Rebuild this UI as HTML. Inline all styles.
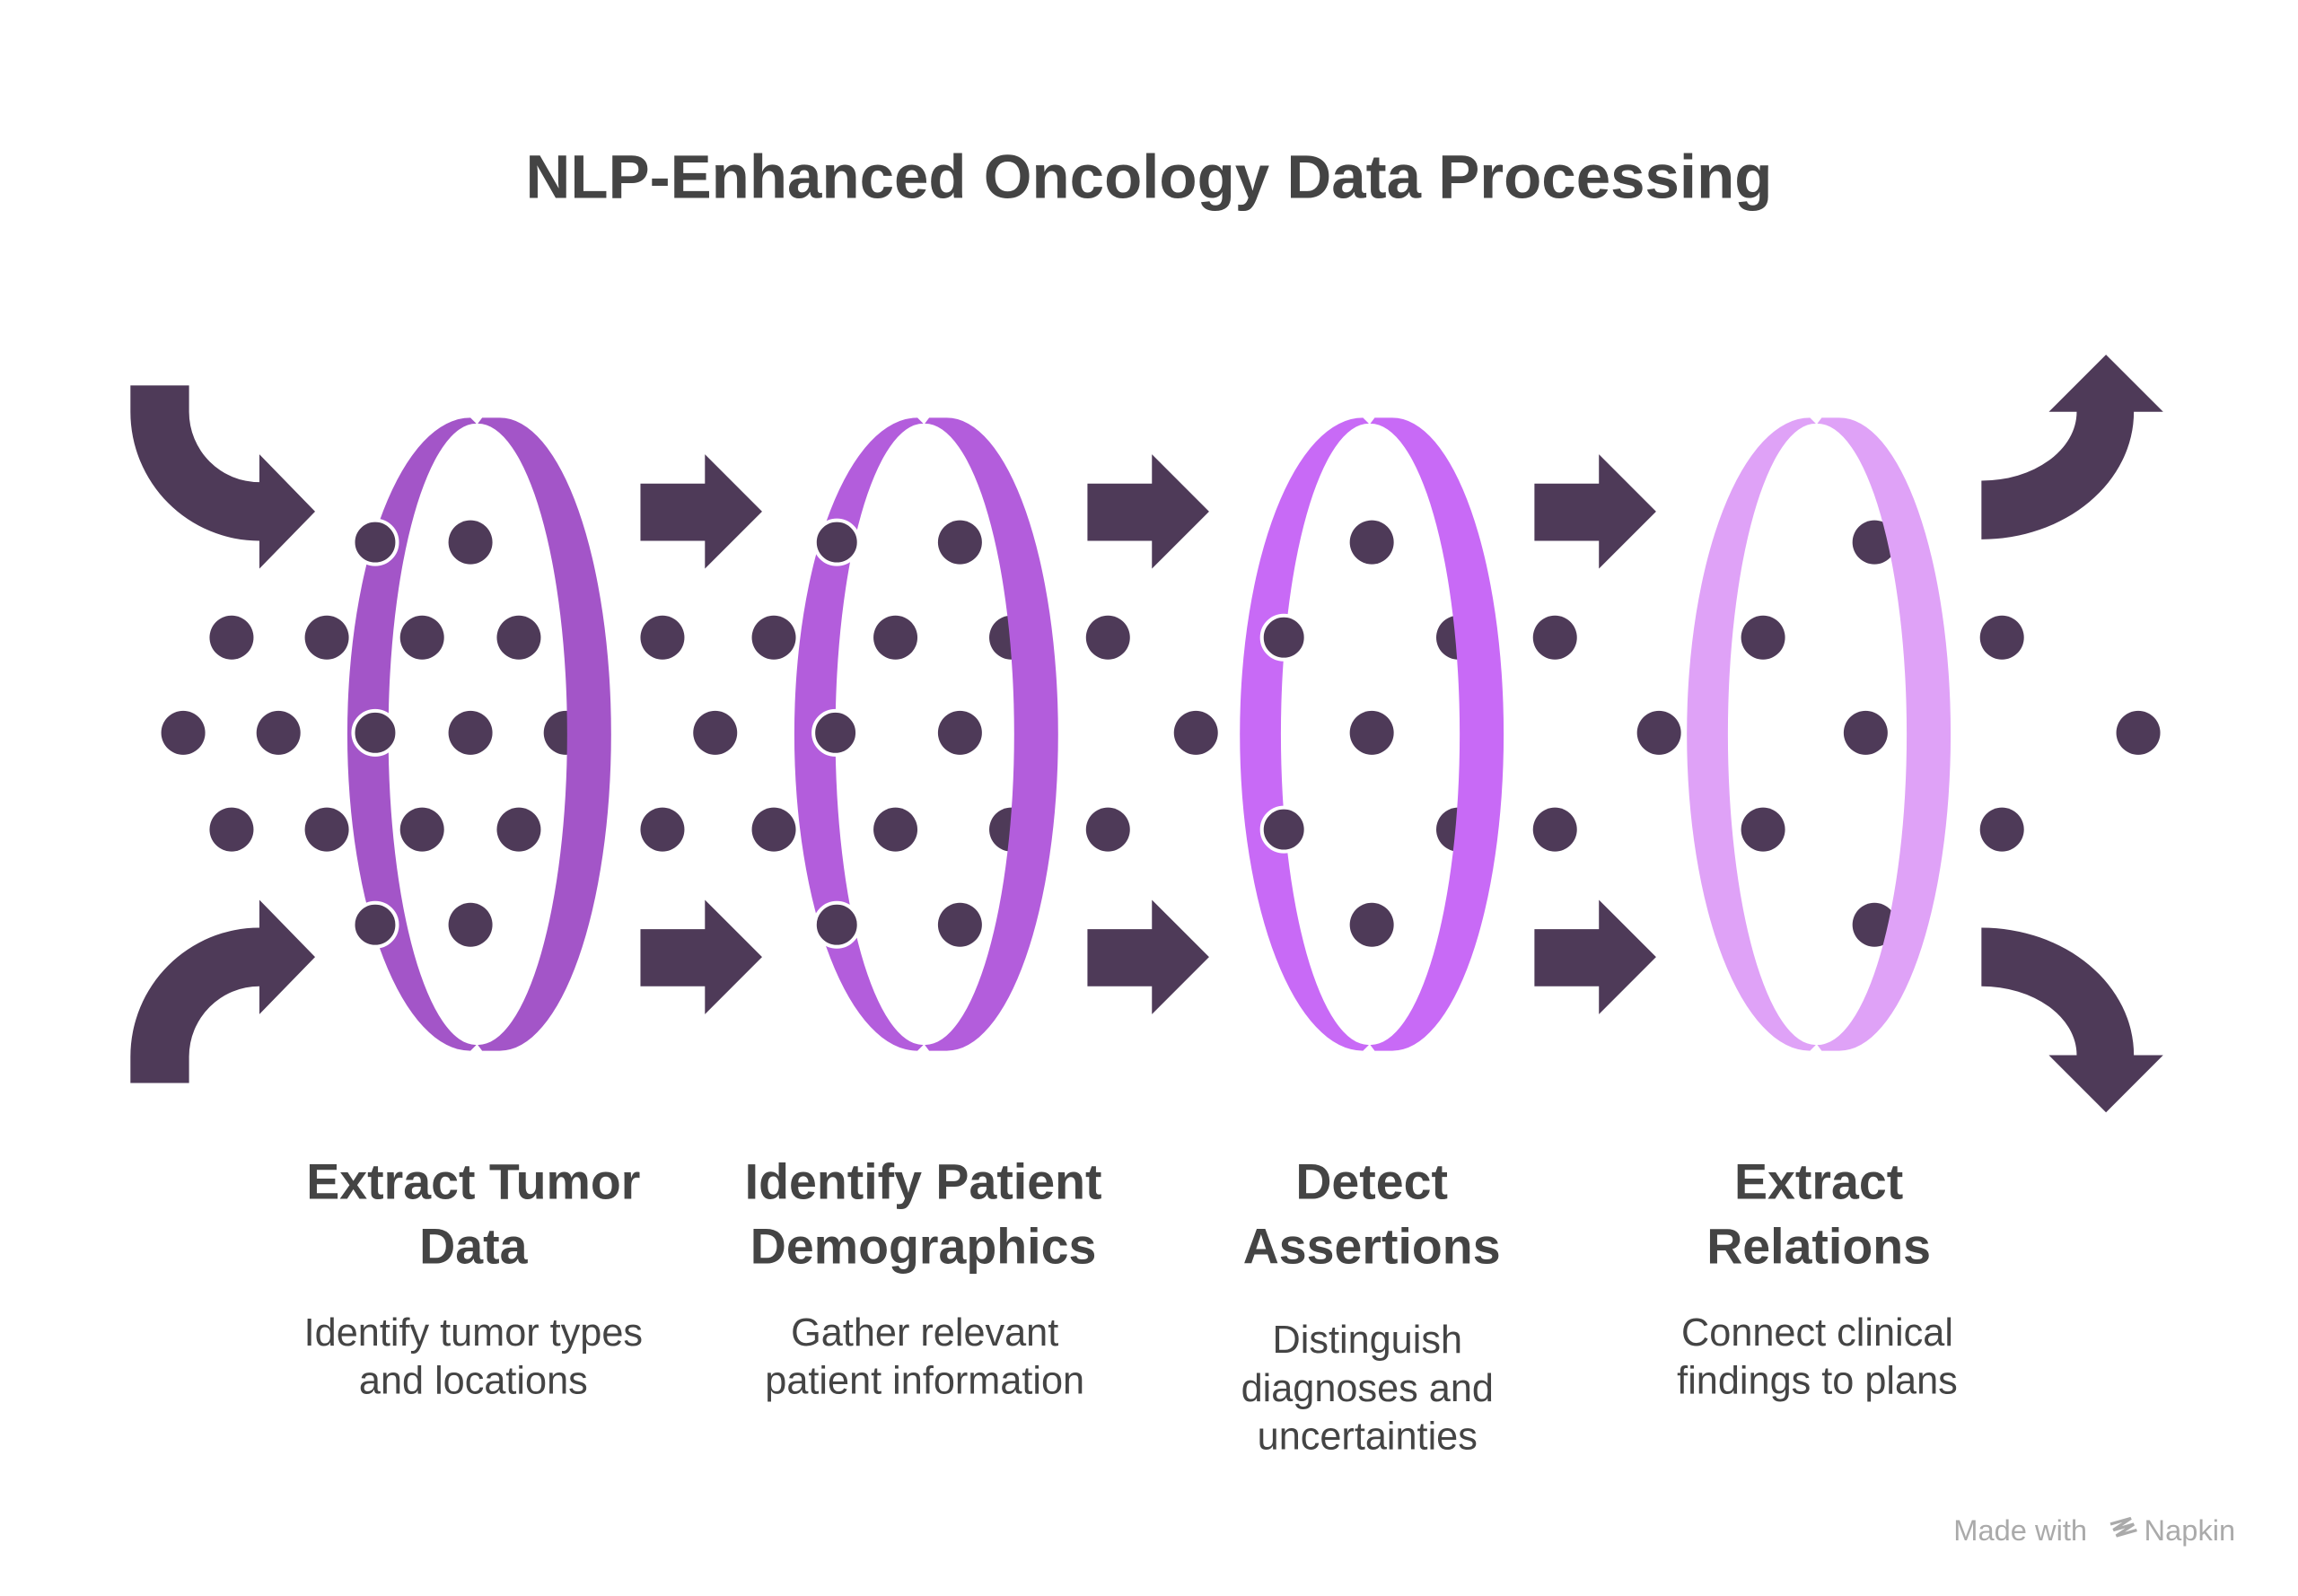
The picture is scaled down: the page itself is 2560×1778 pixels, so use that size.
<!DOCTYPE html>
<html><head><meta charset="utf-8"><style>
html,body{margin:0;padding:0;background:#fff;}
svg{display:block;}
</style></head><body>
<svg width="2560" height="1778" viewBox="0 0 1568 1089" xmlns="http://www.w3.org/2000/svg">
<rect width="1568" height="1089" fill="#fff"/>
<text x="784" y="135" text-anchor="middle" font-family="Liberation Sans, sans-serif" font-weight="bold" font-size="42.3" fill="#444">NLP-Enhanced Oncology Data Processing</text>

<defs>
<g id="ring">
<path d="M321,285 A84 216 0 0 0 321,717 L325,713 A60 212 0 0 1 325,289 Z"/>
<path d="M329,285 L341,285 A76 216 0 0 1 341,717 L329,717 L326,713 A61 212 0 0 0 326,289 Z"/>
</g>
</defs>

<g fill="#4E3A58">
<path d="M89,263 H129 V281 A48 48 0 0 0 177,329 V310 L215,349 L177,388 V369 A88 88 0 0 1 89,281 Z"/>
<path d="M89,739 H129 V721 A48 48 0 0 1 177,673 V692 L215,653 L177,614 V633 A88 88 0 0 0 89,721 Z"/>
<path d="M1352,328 A65 47 0 0 0 1417,281 H1398 L1437,242 L1476,281 H1456 A104 87 0 0 1 1352,368 Z"/>
<path d="M1352,673 A65 47 0 0 1 1417,720 H1398 L1437,759 L1476,720 H1456 A104 87 0 0 0 1352,633 Z"/>
<g id="sa"><path d="M437,330 H481 V310 L520,349 L481,388 V369 H437 Z"/><path d="M437,634 H481 V614 L520,653 L481,692 V673 H437 Z"/></g>
<use href="#sa" x="305"/>
<use href="#sa" x="610"/>

<circle cx="158" cy="435" r="15"/><circle cx="223" cy="435" r="15"/><circle cx="288" cy="435" r="15"/><circle cx="354" cy="435" r="15"/>
<circle cx="125" cy="500" r="15"/><circle cx="190" cy="500" r="15"/><circle cx="321" cy="500" r="15"/><circle cx="386" cy="500" r="15"/>
<circle cx="158" cy="566" r="15"/><circle cx="223" cy="566" r="15"/><circle cx="288" cy="566" r="15"/><circle cx="354" cy="566" r="15"/>
<circle cx="321" cy="370" r="15"/><circle cx="321" cy="631" r="15"/>
<circle cx="452" cy="435" r="15"/><circle cx="528" cy="435" r="15"/><circle cx="611" cy="435" r="15"/><circle cx="690" cy="435" r="15"/><circle cx="756" cy="435" r="15"/>
<circle cx="488" cy="500" r="15"/><circle cx="655" cy="500" r="15"/><circle cx="816" cy="500" r="15"/>
<circle cx="452" cy="566" r="15"/><circle cx="528" cy="566" r="15"/><circle cx="611" cy="566" r="15"/><circle cx="690" cy="566" r="15"/><circle cx="756" cy="566" r="15"/>
<circle cx="655" cy="370" r="15"/><circle cx="655" cy="631" r="15"/>
<circle cx="936" cy="370" r="15"/><circle cx="936" cy="500" r="15"/><circle cx="936" cy="631" r="15"/>
<circle cx="995" cy="435" r="15"/><circle cx="995" cy="566" r="15"/><circle cx="1061" cy="435" r="15"/><circle cx="1061" cy="566" r="15"/><circle cx="1132" cy="500" r="15"/>
<circle cx="1203" cy="435" r="15"/><circle cx="1203" cy="566" r="15"/><circle cx="1273" cy="500" r="15"/>
<circle cx="1279" cy="370" r="15"/><circle cx="1279" cy="631" r="15"/>
<circle cx="1366" cy="435" r="15"/><circle cx="1366" cy="566" r="15"/><circle cx="1459" cy="500" r="15"/>
</g>

<use href="#ring" fill="#A355C8"/>
<use href="#ring" fill="#B35DDC" x="305"/>
<use href="#ring" fill="#C86AF6" x="609"/>
<use href="#ring" fill="#DFA2F7" x="914"/>

<g fill="#4E3A58" stroke="#fff" stroke-width="2.5">
<circle cx="256" cy="370" r="15"/><circle cx="256" cy="500" r="15"/><circle cx="256" cy="631" r="15"/>
<circle cx="571" cy="370" r="15"/><circle cx="570" cy="500" r="15"/><circle cx="571" cy="631" r="15"/>
<circle cx="876" cy="435" r="15"/><circle cx="876" cy="566" r="15"/>
</g>

<g font-family="Liberation Sans, sans-serif" text-anchor="middle" fill="#444">
<g font-weight="bold" font-size="34">
<text x="323" y="818">Extract Tumor</text><text x="323" y="862">Data</text>
<text x="630" y="818">Identify Patient</text><text x="630" y="862">Demographics</text>
<text x="936" y="818">Detect</text><text x="936" y="862">Assertions</text>
<text x="1241" y="818">Extract</text><text x="1241" y="862">Relations</text>
</g>
<g font-size="26.5">
<text x="323" y="918">Identify tumor types</text><text x="323" y="951">and locations</text>
<text x="631" y="918">Gather relevant</text><text x="631" y="951">patient information</text>
<text x="933" y="923">Distinguish</text><text x="933" y="956">diagnoses and</text><text x="933" y="989">uncertainties</text>
<text x="1240" y="918">Connect clinical</text><text x="1240" y="951">findings to plans</text>
</g>
</g>
<text x="1333" y="1051" font-family="Liberation Sans, sans-serif" font-size="20" fill="#aaa">Made with</text>
<path d="M1440,1040 l14,-4 l-12,8 l14,-4 l-12,8 l14,-4" stroke="#aaa" stroke-width="2" fill="none"/>
<text x="1463" y="1051" font-family="Liberation Sans, sans-serif" font-size="20" fill="#aaa">Napkin</text>
</svg>
</body></html>
